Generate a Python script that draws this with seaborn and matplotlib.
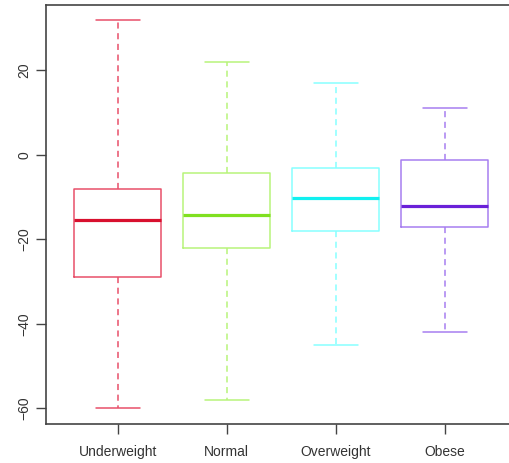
import pandas as pd
import numpy as np
import matplotlib.pyplot as plt
import seaborn as sns

groups = ['Underweight', 'Normal', 'Overweight', 'Obese']
# five-number summaries: min, q1, median, q3, max
underweight = [-60, -29, -15.5, -8, 32]
normal = [-58, -22, -14.2, -4.2, 22]
overweight = [-45, -18, -10.2, -3, 17]
obese = [-42, -17, -12, -1.2, 11]
box_colors = ['#e8506a', '#b8f47a', '#88ffff', '#a77ef0']
median_colors = ['#d8102e', '#80e020', '#10f0f0', '#6a20d8']

sns.set_style('white')
plt.rcParams['font.family'] = ['Liberation Sans', 'DejaVu Sans']

df = pd.DataFrame({
    'group': np.repeat(groups, 5),
    'value': underweight + normal + overweight + obese,
})

fig = plt.figure(figsize=(5.09, 4.63), dpi=100)
ax = fig.add_axes([46 / 509, 39 / 463, 463 / 509, 419 / 463])
sns.boxplot(data=df, x='group', y='value', order=groups, whis=(0, 100),
            width=0.8, fill=False, linewidth=1.1, ax=ax)

# recolour each box the way R draws them
bp = ax.containers[0]
for i, c in enumerate(box_colors):
    box = bp.boxes[i]
    box.set_color(c)
    for ln in bp.whiskers[2 * i:2 * i + 2]:
        ln.set_color(c)
        ln.set_linestyle((0, (4, 3)))
    for ln in bp.caps[2 * i:2 * i + 2]:
        ln.set_color(c)
        xs = np.asarray(ln.get_xdata(), dtype=float)
        mid = xs.mean()
        ln.set_xdata([mid - 0.2, mid + 0.2])
    bp.medians[i].set_color(median_colors[i])
    bp.medians[i].set_linewidth(2.3)

ax.set_xlim(-0.66, 3.59)
ax.set_ylim(-63.7, 35.5)
ax.set_yticks([-60, -40, -20, 0, 20])
ax.set_xlabel('')
ax.set_ylabel('')
for s in ['left', 'bottom', 'top']:
    ax.spines[s].set_color('#444444')
    ax.spines[s].set_linewidth(1.2)
ax.spines['right'].set_visible(False)
ax.tick_params(axis='both', which='both', length=7, width=1, color='#444444',
               labelcolor='#333333', labelsize=10, direction='out',
               left=True, bottom=True)
ax.tick_params(axis='x', pad=8)
for lab in ax.get_yticklabels():
    lab.set_rotation(90)
    lab.set_va('center')

fig.savefig('out.png', dpi=100)
